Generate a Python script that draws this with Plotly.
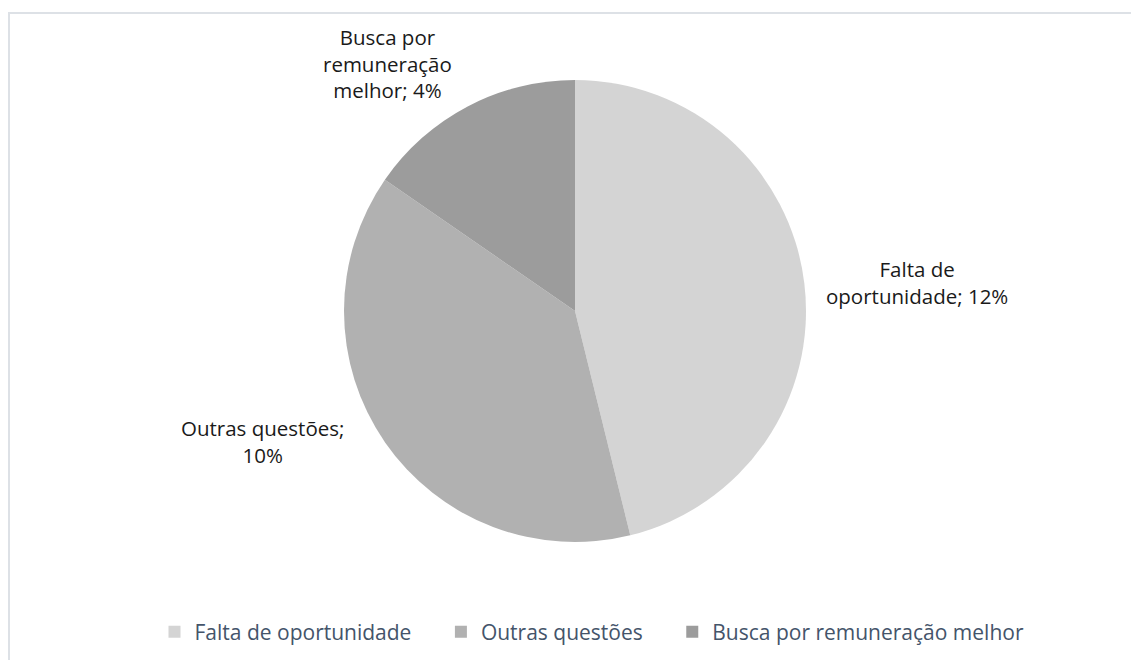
import plotly.graph_objects as go

labels = ["Falta de oportunidade", "Outras questões", "Busca por remuneração melhor"]
values = [12, 10, 4]
label_lines = [["Falta de", "oportunidade; 12%"],
               ["Outras questões;", "10%"],
               ["Busca por", "remuneração", "melhor; 4%"]]
colors = ["#d4d4d4", "#b1b1b1", "#9c9c9c"]

W, H = 1131, 660
FONT = "Open Sans"


def fx(px):
    return px / W


def fy(py):
    return 1 - py / H


# legend names padded so entries are spaced like the reference
legend_names = [labels[0] + "\u2003\u2009", labels[1] + "\u2003\u2009", labels[2]]

fig = go.Figure()
fig.add_trace(go.Pie(
    labels=legend_names, values=values, sort=False, direction="clockwise", rotation=0,
    marker=dict(colors=colors, line=dict(width=0)),
    textinfo="none", customdata=labels, hovertemplate="%{customdata}: %{value}%<extra></extra>",
    domain=dict(x=[fx(343), fx(807)], y=[fy(542), fy(80)]),
))

label_pos = [(917, 282), (262, 441), (387, 63)]
annotations = []
for lines, (px, py) in zip(label_lines, label_pos):
    annotations.append(dict(
        x=fx(px), y=fy(py), xref="paper", yref="paper",
        text="<br>".join(lines), showarrow=False, align="center",
        xanchor="center", yanchor="middle",
        font=dict(family=FONT, size=20.5, color="#1a1a1a"),
    ))

border = dict(color="#dde1e6", width=2)
fig.update_layout(
    width=W, height=H,
    margin=dict(l=0, r=0, t=0, b=0),
    paper_bgcolor="white", plot_bgcolor="white",
    annotations=annotations,
    showlegend=True,
    legend=dict(orientation="h", x=fx(592), xanchor="center", y=fy(632), yanchor="middle",
                font=dict(family=FONT, size=21, color="#44546a"),
                itemwidth=30, traceorder="normal"),
    shapes=[
        dict(type="line", xref="paper", yref="paper",
             x0=fx(8), x1=1.0, y0=fy(13), y1=fy(13), line=border, layer="below"),
        dict(type="line", xref="paper", yref="paper",
             x0=fx(9), x1=fx(9), y0=fy(13), y1=0.0, line=border, layer="below"),
    ],
)

fig.write_html(
    "out.html",
    config={"displayModeBar": False},
    post_script="document.body.style.margin='0';document.body.style.overflow='hidden';",
)
